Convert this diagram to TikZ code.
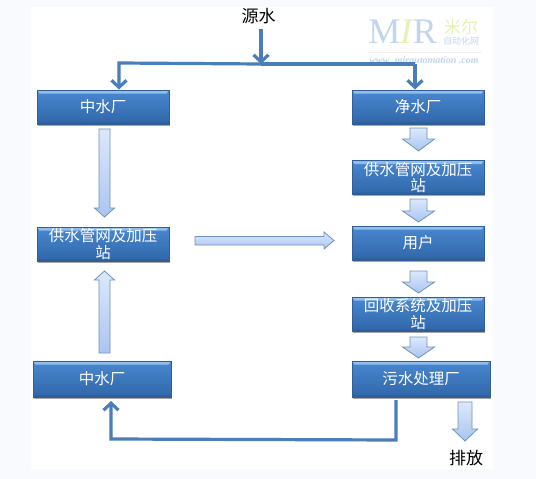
\documentclass[tikz,border=0pt]{standalone}
\usepackage{fontspec}
\setmainfont{Noto Sans CJK SC}
\newfontfamily\logofont{Liberation Serif}
\usetikzlibrary{arrows.meta,shadows,calc}
\definecolor{pagebg}{HTML}{F8FAFD}
\definecolor{pipeblue}{HTML}{4A7EB8}
\definecolor{boxtop}{HTML}{4A88D0}
\definecolor{boxbot}{HTML}{2F66A8}
\definecolor{boxline}{HTML}{2F5F96}
\definecolor{bevel}{HTML}{8FBEEE}
\definecolor{arrowline}{HTML}{6E92BE}
\definecolor{arrowtop}{HTML}{DCE8FB}
\definecolor{arrowbot}{HTML}{A9C5F0}
\definecolor{logoblue}{HTML}{C3D5EC}
\definecolor{logogreen}{HTML}{E6F2B4}
\tikzset{
  x=1pt,y=-1pt,
  flowbox/.style={rectangle,line width=.4pt,draw=boxline,top color=boxtop,bottom color=boxbot,
    text=white,font=\fontsize{15.5}{16.5}\selectfont,align=center,inner sep=0pt,outer sep=0pt,
    minimum width=#1,minimum height=34pt,
    drop shadow={shadow xshift=.8pt,shadow yshift=-1.5pt,opacity=.35,fill=black},
    path picture={
      \fill[bevel] (path picture bounding box.north west) -- (path picture bounding box.north east)
        -- ++(-2.5pt,-3.5pt) -- ($(path picture bounding box.north west)+(2.5pt,-3.5pt)$) -- cycle;
      \fill[boxline] (path picture bounding box.south west) -- (path picture bounding box.south east)
        -- ++(-2pt,2pt) -- ($(path picture bounding box.south west)+(2pt,2pt)$) -- cycle;
    }},
  label text/.style={font=\fontsize{17}{18}\selectfont,inner sep=0pt,text=black},
  pipe/.style={draw=pipeblue,line width=3.2pt,line join=miter,
    -{Straight Barb[length=7pt,width=15pt,line width=3.2pt]}},
  pipeplain/.style={draw=pipeblue,line width=3.2pt,line join=miter},
  blockshape/.style={draw=arrowline,line width=.8pt,line join=miter,
    top color=arrowtop,bottom color=arrowbot},
}
% centre x, tail y, head-base y, tip y, half shaft, half head
\newcommand{\blockvert}[6]{%
  \path[blockshape] (#1-#5,#2) -- (#1+#5,#2) -- (#1+#5,#3) -- (#1+#6,#3) -- (#1,#4)
    -- (#1-#6,#3) -- (#1-#5,#3) -- cycle;}
\begin{document}
\begin{tikzpicture}
\useasboundingbox (0,0) rectangle (536,479);
\fill[pagebg] (0,0) rectangle (536,479);
\fill[white] (31,7) rectangle (493,469);

% watermark
\node[font=\logofont\fontsize{36}{36}\selectfont,text=logoblue,inner sep=0pt] (logoM) at (384.5,32) {M};
\node[font=\logofont\itshape\fontsize{36}{36}\selectfont,text=logogreen,inner sep=0pt] (logoI) at (406,32) {I};
\node[font=\logofont\fontsize{36}{36}\selectfont,text=logoblue,inner sep=0pt] (logoR) at (425,32) {R};
\node[align=center,inner sep=0pt] (logoCn) at (461,32)
  {\fontsize{17}{15}\selectfont\textcolor{logogreen}{米尔}\\[-1pt]\fontsize{9}{9}\selectfont\textcolor{logoblue}{自动化网}};
\fill[black!6] (368,51.5) rectangle (482,52.5);
\node[font=\logofont\itshape\bfseries\fontsize{10}{10}\selectfont,text=logoblue,inner sep=0pt] (logoWeb) at (424,60) {www. mirautomation .com};

% boxes
\node[flowbox=132pt] (zs1) at (103,107) {中水厂};
\node[flowbox=132pt] (js) at (418,107) {净水厂};
\node[flowbox=132pt] (gs2) at (418,177.5) {供水管网及加压\\站};
\node[flowbox=132pt] (gs1) at (103,244) {供水管网及加压\\站};
\node[flowbox=132pt] (yh) at (418,243) {用户};
\node[flowbox=132pt] (hs) at (418,314) {回收系统及加压\\站};
\node[flowbox=138pt,minimum height=36pt] (ws) at (421,379) {污水处理厂};
\node[flowbox=138pt,minimum height=36pt] (zs2) at (102,379) {中水厂};

% labels
\node[label text] (src) at (258.5,16.5) {源水};
\node[label text] (out) at (466,458.5) {排放};

% block arrows
\blockvert{104.5}{129}{208}{217}{5.5}{10}
\blockvert{104.5}{353}{280}{271}{5.5}{10}
\path[blockshape] (195,236.5) -- (324,236.5) -- (324,232) -- (334,240.5) -- (324,249) -- (324,245) -- (195,245) -- cycle;
\blockvert{418.5}{128}{139}{151}{8.5}{16}
\blockvert{418.5}{199}{211}{222}{8.5}{16}
\blockvert{418.5}{271}{282}{293}{8.5}{16}
\blockvert{418.5}{337}{347}{358}{8.5}{16}
\blockvert{465}{402}{429}{441}{7}{12.5}

% pipes
\coordinate (jn) at (261,64);
\coordinate (ml) at (119,63);
\coordinate (mr) at (415,64);
\coordinate (bl) at (111,439);
\coordinate (br) at (396,440);
\draw[pipe,shorten <=4pt] (src.south -| jn) -- (jn);
\draw[pipeplain] (jn) -- (mr);
\draw[pipe,shorten >=.5pt] (jn) -- (ml) -- (zs1.north -| ml);
\draw[pipe,shorten >=.5pt] (mr) -- (js.north -| mr);
\draw[pipe,shorten <=3pt,shorten >=4pt] (ws.south -| br) -- (br) -- (bl) -- (zs2.south -| bl);
\end{tikzpicture}
\end{document}
